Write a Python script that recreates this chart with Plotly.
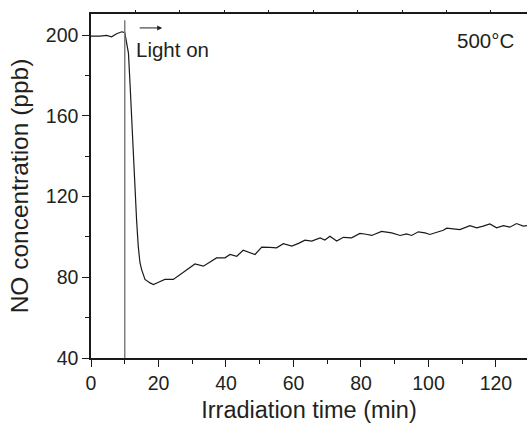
import plotly.graph_objects as go

time_min = [0, 2.7, 4.6, 6.1, 7.6, 9.1, 10, 11.1, 11.6, 12.05, 12.5, 13.0, 13.5, 14.0, 14.5, 15.0, 16, 17.5, 18.5,
            20, 21.9, 24.4, 26.5, 28.4, 30.8, 33.3, 35.2, 37.2, 39.7, 41.2, 43.2, 45.1, 48.6, 50.6, 53, 55, 57,
            59.5, 61.5, 63.4, 65.4, 67.9, 69.3, 70.8, 72.8, 74.8, 77.2, 79.7, 81.5, 83.2, 86.1, 89.1, 91.6, 93.5,
            95, 97, 99, 100.4, 102.5, 104.4, 105.4, 107.5, 109.3, 112.3, 114.3, 116.2, 118.2, 120.2, 122.2, 124.1,
            126.1, 128.1, 129.2]
no_ppb = [199.4, 199.4, 199.8, 199.1, 200.6, 201.6, 201.2, 191.0, 174.6, 158.1, 141.7, 125.1, 108.6, 95.4, 87.3,
          83.8, 78.9, 77.2, 76.4, 77.5, 78.9, 78.9, 81.5, 83.8, 86.6, 85.5, 87.5, 89.6, 89.6, 91.3, 90.4, 93.4,
          91.3, 94.9, 94.8, 94.6, 96.6, 95.4, 96.8, 98.4, 97.9, 99.5, 98.4, 100.3, 97.9, 99.8, 99.5, 101.7, 101.3,
          100.7, 102.7, 102.0, 100.7, 101.5, 100.7, 102.5, 102.0, 101.2, 102.3, 103.3, 104.3, 104.0, 103.6, 105.6,
          104.5, 105.3, 106.4, 104.5, 105.6, 104.8, 106.6, 105.3, 105.6]

x_ticks = [0, 20, 40, 60, 80, 100, 120]
y_ticks = [40, 80, 120, 160, 200]
top_ticks = [13.17 * k for k in range(1, 10)]
light_on_time = 10
x_range = [0, 129.2]
y_range = [40, 210.4]

FONT = "Liberation Sans, Arial, sans-serif"
TXT = "#231f20"

fig = go.Figure()
fig.add_trace(go.Scatter(x=time_min, y=no_ppb, mode="lines",
                         line=dict(color="#1a1a1a", width=1.2), showlegend=False))
# invisible trace so the top axis is drawn
fig.add_trace(go.Scatter(x=[x_range[0]], y=[y_range[0]], xaxis="x2", mode="markers",
                         marker=dict(opacity=0), showlegend=False, hoverinfo="skip"))

fig.add_shape(type="line", x0=light_on_time, x1=light_on_time, y0=40, y1=207.3,
              xref="x", yref="y", line=dict(color="#7f7f7f", width=1.5))

fig.add_annotation(x=21.1, y=203.5, ax=14.0, ay=203.5, xref="x", yref="y", axref="x", ayref="y",
                   text="", showarrow=True, arrowhead=2, arrowsize=1, arrowwidth=1, arrowcolor=TXT)
fig.add_annotation(x=12.8, y=193.0, xref="x", yref="y", text="Light on", showarrow=False,
                   xanchor="left", yanchor="middle", font=dict(family=FONT, size=20.5, color=TXT))
fig.add_annotation(x=126.0, y=197.3, xref="x", yref="y", text="500°C", showarrow=False,
                   xanchor="right", yanchor="middle", font=dict(family=FONT, size=20.5, color=TXT))

fig.update_layout(
    width=527, height=423,
    margin=dict(l=91, r=0, t=14, b=65, autoexpand=False),
    paper_bgcolor="white", plot_bgcolor="white",
    font=dict(family=FONT, color=TXT),
    xaxis=dict(range=x_range, tickvals=x_ticks, ticks="outside", ticklen=7, tickwidth=1.2,
               tickcolor="#1a1a1a", showline=True, linecolor="#1a1a1a", linewidth=1.5,
               mirror=False, showgrid=False, zeroline=False,
               tickfont=dict(size=19.5, color=TXT),
               title=dict(text="Irradiation time (min)", font=dict(size=23.5, color=TXT), standoff=9),
               minor=dict(tickvals=[10, 30, 50, 70, 90, 110], ticks="outside", ticklen=4,
                          tickwidth=1.2, tickcolor="#1a1a1a")),
    xaxis2=dict(range=x_range, overlaying="x", side="top", tickvals=top_ticks, ticks="outside",
                ticklen=2, tickwidth=1, tickcolor="#1a1a1a", showticklabels=False,
                showline=True, linecolor="#1a1a1a", linewidth=1.5, showgrid=False, zeroline=False),
    yaxis=dict(range=y_range, tickvals=y_ticks, ticks="outside", ticklen=7, tickwidth=1.2,
               tickcolor="#1a1a1a", showline=True, linecolor="#1a1a1a", linewidth=1.5,
               showgrid=False, zeroline=False,
               tickfont=dict(size=19.5, color=TXT),
               title=dict(text="NO concentration (ppb)", font=dict(size=24.5, color=TXT), standoff=10),
               minor=dict(tickvals=[60, 100, 140, 180], ticks="outside", ticklen=4,
                          tickwidth=1.2, tickcolor="#1a1a1a")),
)

fig.write_html("out.html", config={"displayModeBar": False},
               post_script="document.body.style.margin='0';")
